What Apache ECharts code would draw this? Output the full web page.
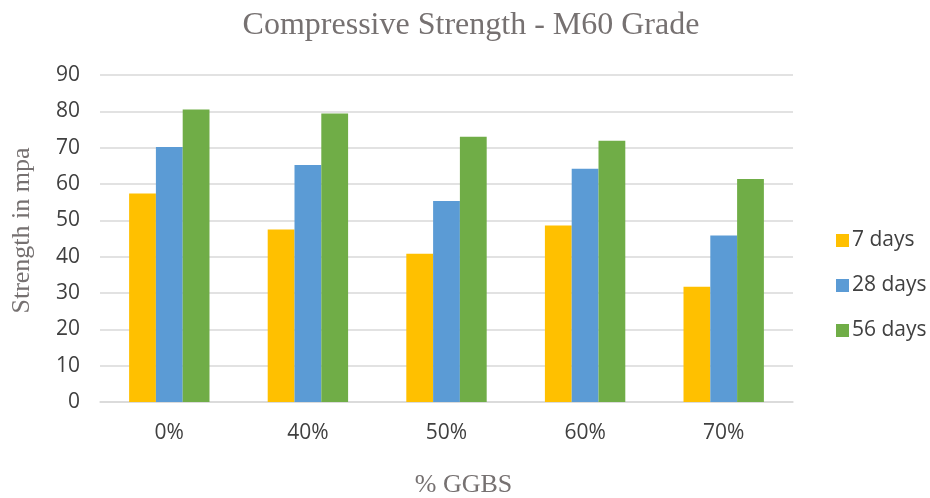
<!DOCTYPE html>
<html>
<head>
<meta charset="utf-8">
<script src="https://cdn.jsdelivr.net/npm/echarts@6/dist/echarts.min.js"></script>
<style>
  html, body { margin: 0; padding: 0; background: #fff; }
  #chart { width: 930px; height: 498px; }
</style>
</head>
<body>
<div id="chart"></div>
<script>
// % GGBS replacement levels
const categories = ['0%', '40%', '50%', '60%', '70%'];
// Compressive strength (MPa) by curing age
const days7 = [57.4, 47.5, 40.8, 48.6, 31.7];
const days28 = [70.2, 65.2, 55.3, 64.2, 45.8];
const days56 = [80.5, 79.4, 73.0, 71.9, 61.4];
const seriesNames = ['7 days', '28 days', '56 days'];
const yTicks = { min: 0, max: 90, interval: 10 };

const colors = ['#FFC000', '#5B9BD5', '#70AD47'];
const labelFont = '"Open Sans", "Liberation Sans", sans-serif';
const serifFont = '"Liberation Serif", "DejaVu Serif", serif';

const chart = echarts.init(document.getElementById('chart'));
const values = [days7, days28, days56];

chart.setOption({
  animation: false,
  color: colors,
  title: {
    text: 'Compressive Strength - M60 Grade',
    left: 466,
    textAlign: 'center',
    top: 5,
    textStyle: { fontFamily: serifFont, fontSize: 32, fontWeight: 'normal', color: '#767171' }
  },
  legend: {
    orient: 'vertical',
    left: 831,
    top: 225,
    itemGap: 24,
    itemWidth: 13,
    itemHeight: 13,
    icon: 'rect',
    textStyle: { fontFamily: labelFont, fontSize: 21, color: '#404040', padding: [0, 0, 0, -2] },
    data: seriesNames
  },
  grid: { left: 100, right: 137, top: 75, bottom: 96, containLabel: false, outerBoundsMode: 'none' },
  xAxis: {
    type: 'category',
    data: categories,
    name: '% GGBS',
    nameLocation: 'middle',
    nameGap: 70,
    nameTextStyle: { fontFamily: serifFont, fontSize: 26, color: '#767171', padding: [0, 0, 0, 34] },
    axisLine: { lineStyle: { color: '#D9D9D9', width: 1.5 } },
    axisTick: { show: false },
    axisLabel: { fontFamily: labelFont, fontSize: 21, color: '#404040', margin: 21 }
  },
  yAxis: {
    type: 'value',
    min: yTicks.min,
    max: yTicks.max,
    interval: yTicks.interval,
    name: 'Strength in mpa',
    nameLocation: 'middle',
    nameGap: 65,
    nameTextStyle: { fontFamily: serifFont, fontSize: 26, color: '#767171', padding: [0, 0, 0, 16] },
    axisLine: { show: false },
    axisTick: { show: false },
    axisLabel: { fontFamily: labelFont, fontSize: 21, color: '#404040', margin: 20 },
    splitLine: { lineStyle: { color: '#D9D9D9', width: 1.5 } }
  },
  series: seriesNames.map((name, i) => ({
    name,
    type: 'bar',
    data: values[i],
    barGap: '0%',
    barCategoryGap: '42%'
  }))
});
</script>
</body>
</html>
